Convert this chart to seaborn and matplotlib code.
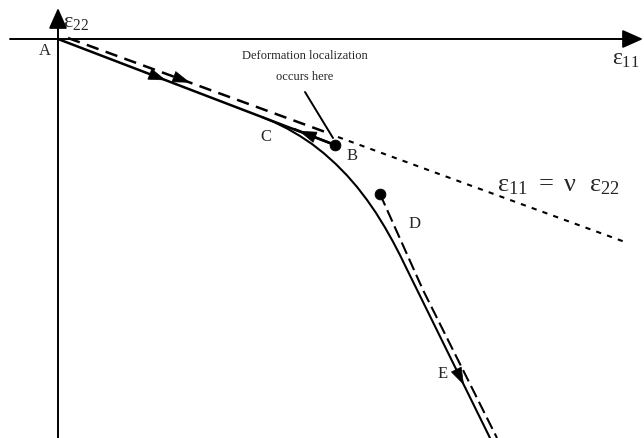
import matplotlib
matplotlib.use('Agg')
import matplotlib.pyplot as plt
import seaborn as sns
import pandas as pd

# 圖上座標 (像素單位, y 向下)
axis_h_x = [10, 643]
axis_h_y = [39, 39]
axis_v_x = [58, 58]
axis_v_y = [438, 8]

# A -> B 加載路徑 (實線)
load_x = [58, 335]
load_y = [39, 145]
# eps11 = nu eps22 (虛線段 / 點線段)
nu_dash_x = [68, 328]
nu_dash_y = [38, 133]
nu_dot_x = [338, 625]
nu_dot_y = [137, 242]
# B -> C 卸載
unload_x = [335, 294]
unload_y = [145, 129]
# C -> E 曲線
curve_x = [262, 275, 288, 300, 312, 324, 336, 347, 357, 367, 376, 385, 393, 400, 406, 490]
curve_y = [117, 122.5, 129, 136, 144, 153.4, 164.2, 175.4, 186.9, 199.9, 212.9,
           227.5, 241.7, 255.1, 267.4, 438]
# D -> E 虛線
de_x = [380, 423, 497]
de_y = [194, 290, 438]
# 標註線
note_x = [305, 333]
note_y = [92, 138]
# 黑點 B, D
dot_x = [335, 380]
dot_y = [145, 194]

sns.set_theme(style='white')
plt.rcParams['font.family'] = ['Liberation Serif', 'DejaVu Serif']
plt.rcParams['mathtext.fontset'] = 'custom'
plt.rcParams['mathtext.rm'] = 'Liberation Serif'
plt.rcParams['mathtext.it'] = 'Liberation Serif'
plt.rcParams['mathtext.bf'] = 'Liberation Serif:bold'

fig = plt.figure(figsize=(6.44, 4.38), dpi=100)
ax = fig.add_axes([0, 0, 1, 1])
ax.set_xlim(0, 644)
ax.set_ylim(438, 0)
ax.axis('off')

k = 'black'
hstyle = '-|>,head_length=0.9,head_width=0.3'


def seg(x, y, **kw):
    df = pd.DataFrame({'x': x, 'y': y})
    sns.lineplot(data=df, x='x', y='y', sort=False, estimator=None, ax=ax,
                 color=k, **kw)


def head(x, y, frac, size=13):
    # 在線段上畫箭頭
    x0, x1 = x[0], x[-1]
    y0, y1 = y[0], y[-1]
    tx, ty = x0 + frac * (x1 - x0), y0 + frac * (y1 - y0)
    d = 0.02
    sx, sy = tx - d * (x1 - x0), ty - d * (y1 - y0)
    ax.annotate('', xy=(tx, ty), xytext=(sx, sy),
                arrowprops=dict(arrowstyle=hstyle, color=k, lw=0.5,
                                mutation_scale=size, shrinkA=0, shrinkB=0))


# 座標軸
for ax_x, ax_y in [(axis_h_x, axis_h_y), (axis_v_x, axis_v_y)]:
    ax.annotate('', xy=(ax_x[1], ax_y[1]), xytext=(ax_x[0], ax_y[0]),
                arrowprops=dict(arrowstyle='-|>,head_length=0.9,head_width=0.4',
                                color=k, lw=1.4, mutation_scale=14,
                                shrinkA=0, shrinkB=0))

seg(load_x, load_y, lw=1.8)
seg(nu_dash_x, nu_dash_y, lw=1.8, dashes=(5, 3))
seg(nu_dot_x, nu_dot_y, lw=1.5, dashes=(2.5, 3))
seg(unload_x, unload_y, lw=1.8)
seg(curve_x, curve_y, lw=1.5)
seg(de_x, de_y, lw=1.5, dashes=(6, 2.5))
seg(note_x, note_y, lw=1.4)

sns.scatterplot(x=dot_x, y=dot_y, s=60, color=k, edgecolor=k, ax=ax, zorder=5)

head(load_x, load_y, 0.39)
head(nu_dash_x, nu_dash_y, 0.47)
head(unload_x, unload_y, 0.88)
head(curve_x[-2:], curve_y[-2:], 0.69)

# 文字
ax.text(63, 22, r'$\varepsilon_{22}$', fontsize=16, ha='left', va='center')
ax.text(612, 60, r'$\varepsilon_{11}$', fontsize=17, ha='left', va='center')
ax.text(45, 51, 'A', fontsize=12, ha='center', va='center')
ax.text(352, 156, 'B', fontsize=12, ha='center', va='center')
ax.text(266, 137, 'C', fontsize=12, ha='center', va='center')
ax.text(415, 224, 'D', fontsize=12, ha='center', va='center')
ax.text(443, 374, 'E', fontsize=12, ha='center', va='center')
ax.text(305, 56, 'Deformation localization', fontsize=9, ha='center', va='center')
ax.text(305, 77, 'occurs here', fontsize=9, ha='center', va='center')
ax.text(497, 186, r'$\varepsilon_{11}\ =\ \nu\ \ \varepsilon_{22}$', fontsize=19,
        ha='left', va='center')

fig.savefig('out.png', dpi=100, facecolor='white')
